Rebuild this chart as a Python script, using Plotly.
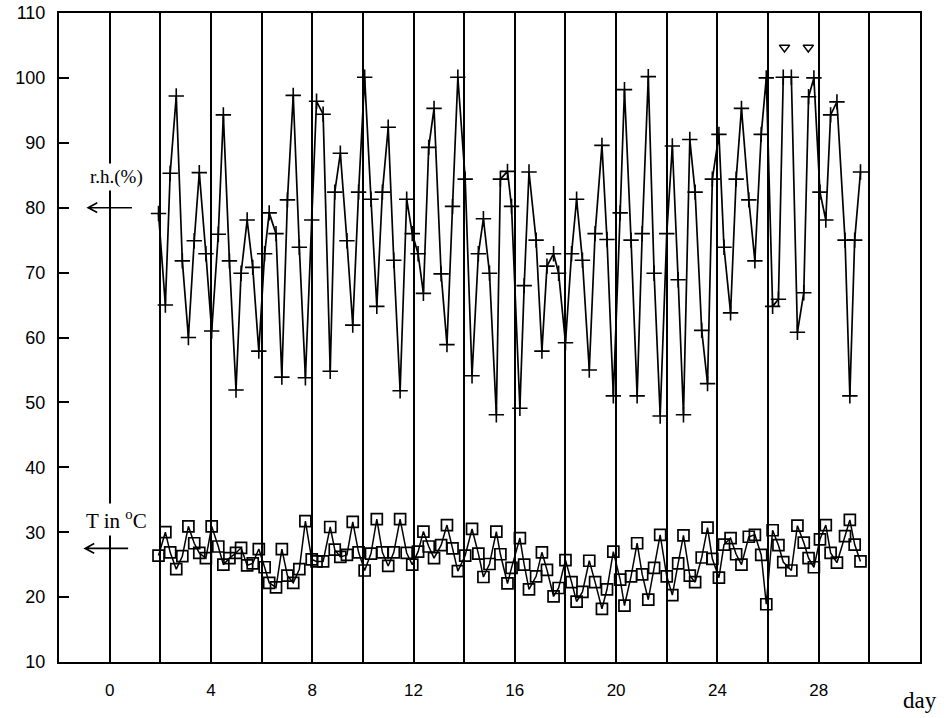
import plotly.graph_objects as go

# measurement times (day) shared by both series
days = [1.93, 2.20, 2.39, 2.63, 2.87, 3.11, 3.34, 3.54, 3.80, 4.03,
        4.29, 4.49, 4.73, 4.99, 5.19, 5.43, 5.65, 5.89, 6.12, 6.30,
        6.57, 6.80, 7.02, 7.25, 7.49, 7.73, 7.98, 8.17, 8.43, 8.71,
        8.89, 9.11, 9.37, 9.60, 9.83, 10.07, 10.32, 10.55, 10.77, 11.00,
        11.22, 11.47, 11.73, 11.95, 12.18, 12.39, 12.60, 12.81, 13.09, 13.32,
        13.54, 13.75, 14.04, 14.31, 14.56, 14.76, 15.00, 15.27, 15.43, 15.71,
        15.87, 16.20, 16.37, 16.56, 16.84, 17.07, 17.27, 17.53, 17.73, 18.00,
        18.24, 18.44, 18.67, 18.94, 19.17, 19.44, 19.64, 19.89, 20.16, 20.33,
        20.59, 20.83, 21.03, 21.27, 21.50, 21.74, 22.00, 22.22, 22.45, 22.66,
        22.91, 23.12, 23.38, 23.61, 23.80, 24.06, 24.26, 24.52, 24.74, 24.95,
        25.24, 25.48, 25.73, 25.93, 26.18, 26.41, 26.60, 26.92, 27.16, 27.41,
        27.60, 27.81, 28.05, 28.28, 28.47, 28.72, 29.04, 29.23, 29.42, 29.65]

rh = [79.1, 65.0, 85.3, 97.2, 71.8, 60.0, 74.9, 85.4, 72.9, 61.0,
      75.9, 94.3, 71.8, 51.9, 69.9, 78.1, 70.8, 57.9, 72.9, 79.2,
      76.0, 53.9, 81.2, 97.3, 73.9, 53.8, 78.1, 96.4, 94.4, 54.8,
      82.4, 88.4, 74.9, 61.9, 82.4, 100.1, 81.3, 64.8, 82.4, 92.4,
      71.9, 51.8, 81.3, 76.0, 72.9, 66.8, 89.3, 95.3, 69.8, 58.9,
      80.2, 100.1, 84.4, 54.1, 72.9, 78.3, 69.9, 48.1, 84.4, 85.6,
      80.2, 49.1, 68.0, 85.5, 75.0, 57.9, 71.0, 72.9, 69.9, 59.2,
      72.9, 81.3, 71.9, 55.0, 76.0, 89.6, 75.1, 51.0, 79.2, 98.2,
      75.0, 51.0, 76.0, 100.2, 69.9, 47.9, 76.0, 89.5, 68.9, 48.1,
      90.5, 82.4, 61.1, 52.9, 84.4, 91.3, 73.9, 63.8, 84.4, 95.3,
      81.2, 71.8, 91.3, 100.0, 64.8, 65.9, 100.1, 100.1, 60.8, 66.9,
      97.1, 100.0, 82.4, 78.1, 94.3, 96.3, 75.0, 51.0, 75.0, 85.5]

temp = [26.4, 30.0, 26.9, 24.3, 26.3, 30.9, 28.3, 26.8, 26.0, 30.9,
        27.8, 25.0, 26.0, 26.8, 27.6, 24.9, 25.2, 27.4, 24.6, 22.2,
        21.5, 27.4, 23.3, 22.2, 24.3, 31.7, 25.8, 25.5, 25.5, 30.8,
        27.3, 26.2, 26.5, 31.6, 26.9, 24.1, 26.7, 32.0, 26.9, 24.8,
        26.9, 32.0, 26.8, 25.0, 27.0, 30.1, 27.8, 26.0, 28.0, 31.1,
        27.5, 24.0, 26.4, 30.5, 26.7, 23.1, 25.1, 30.1, 26.6, 22.1,
        24.5, 29.1, 25.0, 21.2, 23.2, 26.9, 24.2, 20.1, 21.4, 25.7,
        22.3, 19.3, 20.8, 25.6, 22.3, 18.2, 21.2, 27.0, 22.7, 18.7,
        23.2, 28.3, 23.5, 19.6, 24.5, 29.6, 23.2, 20.3, 25.2, 29.5,
        23.3, 22.3, 26.1, 30.7, 25.9, 23.0, 28.1, 29.1, 26.6, 25.0,
        29.3, 29.6, 26.5, 18.9, 30.3, 28.0, 25.4, 24.1, 31.0, 28.4,
        26.0, 24.6, 28.9, 31.1, 26.8, 25.3, 29.4, 31.9, 28.1, 25.5]

# open triangle markers above the r.h. curve
tri_days = [26.65, 27.59]
tri_vals = [104.7, 104.7]

x_ticks = [0, 4, 8, 12, 16, 20, 24, 28]
y_ticks = [10, 20, 30, 40, 50, 60, 70, 80, 90, 100, 110]

fig = go.Figure()
fig.add_trace(go.Scatter(
    x=days, y=rh, mode="lines+markers",
    line=dict(color="black", width=1.7),
    marker=dict(symbol="cross-thin", size=11, line=dict(color="black", width=1.6)),
    showlegend=False))
fig.add_trace(go.Scatter(
    x=days, y=temp, mode="lines+markers",
    line=dict(color="black", width=1.5),
    marker=dict(symbol="square-open", size=11, color="black", line=dict(color="black", width=1.7)),
    showlegend=False))
fig.add_trace(go.Scatter(
    x=tri_days, y=tri_vals, mode="markers",
    marker=dict(symbol="triangle-down-open", size=9, color="black", line=dict(color="black", width=1.5)),
    showlegend=False))

sans = "Liberation Sans, Arial, sans-serif"
serif = "Liberation Serif, Times New Roman, serif"

fig.update_xaxes(
    range=[-2, 32], tickvals=x_ticks, ticktext=[str(v) for v in x_ticks],
    showgrid=True, gridcolor="black", gridwidth=1.7,
    minor=dict(dtick=2, tick0=0, showgrid=True, gridcolor="black", gridwidth=1.7),
    showline=True, linecolor="black", linewidth=2, mirror=True,
    ticks="", zeroline=False, automargin=False,
    tickfont=dict(family=sans, size=17, color="black"),
    ticklabelstandoff=12)
fig.update_yaxes(
    range=[10, 110], tickvals=y_ticks,
    showgrid=False, zeroline=False, automargin=False,
    showline=True, linecolor="black", linewidth=2, mirror=True,
    ticks="inside", ticklen=10, tickwidth=2, tickcolor="black",
    tickfont=dict(family=sans, size=18, color="black"),
    ticklabelstandoff=8)


def arrow_path(x_tip, x_tail, y, dx=0.36, dy=0.75):
    return (f"M {x_tail},{y} L {x_tip},{y} "
            f"M {x_tip + dx},{y + dy} L {x_tip},{y} L {x_tip + dx},{y - dy}")


shapes = [
    dict(type="path", xref="x", yref="y", path=arrow_path(-0.85, 0.88, 80),
         line=dict(color="black", width=1.6)),
    dict(type="path", xref="x", yref="y", path=arrow_path(-0.97, 0.73, 27.5),
         line=dict(color="black", width=1.6)),
]

annotations = [
    dict(x=0.28, y=84.8, xref="x", yref="y", text="r.h.(%)", showarrow=False,
         font=dict(family=serif, size=19, color="black"), bgcolor="white",
         borderpad=2),
    dict(x=0.28, y=31.9, xref="x", yref="y", text="T in <sup>o</sup>C", showarrow=False,
         font=dict(family=serif, size=21, color="black"), bgcolor="white",
         borderpad=2),
    dict(x=1.0, y=-0.06, xref="paper", yref="paper", text="day", showarrow=False,
         xanchor="center", yanchor="middle",
         font=dict(family=serif, size=23, color="black")),
]

fig.update_layout(
    width=950, height=718,
    margin=dict(l=59, r=30, t=13, b=56),
    paper_bgcolor="white", plot_bgcolor="white",
    shapes=shapes, annotations=annotations,
    showlegend=False)

fig.write_html("out.html",
               config={"displayModeBar": False},
               post_script="document.body.style.margin='0';document.body.style.overflow='hidden';")
